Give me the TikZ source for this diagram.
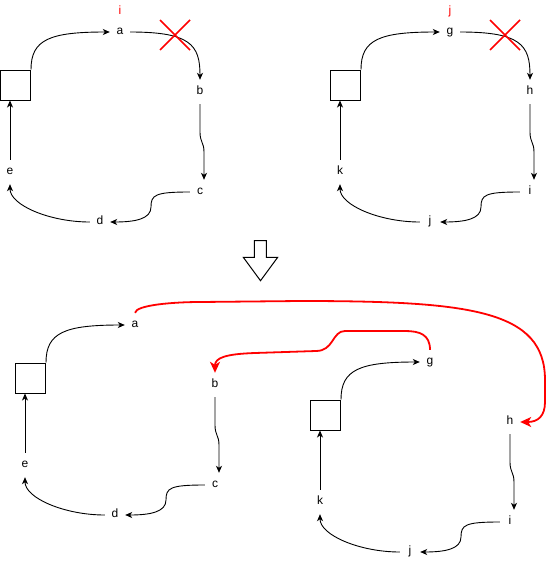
\documentclass[tikz,border=0pt]{standalone}
\usepackage{fontspec}
\setmainfont{Liberation Sans}
\usetikzlibrary{arrows.meta}
\tikzset{
  lbl/.style={inner sep=0pt, minimum width=20pt, minimum height=24pt, text height=8pt, text depth=2.5pt, font=\fontsize{12}{14}\selectfont},
  redlbl/.style={lbl, text=red},
  sqbox/.style={draw, line width=1pt, minimum size=30pt, inner sep=0pt},
  edge/.style={draw, line width=0.9pt, -{Stealth[length=7pt,width=6pt,inset=2pt]}},
  redge/.style={draw=red, line width=1.8pt, -{Stealth[length=11pt,width=10pt,inset=3pt]}},
  redx/.style={draw=red, line width=1.6pt},
  blockarrow/.style={draw, line width=1pt, fill=white, line join=miter}
}
\newcommand\ringgroup[7]{%
  \begin{scope}[shift={#2}]
    \node[sqbox] (#1sq) at (15.5,85) {};
    \node[lbl] (#1n1) at (120,32) {#3};
    \node[lbl] (#1n2) at (200,92) {#4};
    \node[lbl] (#1n3) at (200,192) {#5};
    \node[lbl] (#1n4) at (100,222) {#6};
    \node[lbl] (#1n5) at (10,172) {#7};
    \draw[edge] (#1sq.north east) .. controls +(0,-30) and +(-60,0) .. (#1n1.west);
    \draw[edge] (#1n2.south) -- ++(0,28) .. controls +(0,10) and +(0,-10) .. ++(4,20) -- ([xshift=4pt]#1n3.north);
    \draw[edge] (#1n3.west) .. controls +(-35,0) and +(0,-12) .. (151,207) .. controls +(0,12) and +(25,0) .. (#1n4.east);
    \draw[edge] (#1n4.west) .. controls +(-40,0) and +(0,21) .. (#1n5.south);
    \draw[edge] (#1n5.north) -- (#1n5.north |- #1sq.south);
  \end{scope}}
\begin{document}
\begin{tikzpicture}[x=1pt,y=-1pt]
  \useasboundingbox (0,0) rectangle (547,562);
  % top groups
  \ringgroup{TL}{(0,0)}{a}{b}{c}{d}{e}
  \ringgroup{TR}{(330,0)}{g}{h}{i}{j}{k}
  \node[redlbl] (TLmark) at (120,12) {i};
  \node[redlbl] (TRmark) at (450,12) {j};
  \draw[edge] (TLn1.east) .. controls +(60,0) and +(0,-35) .. (TLn2.north);
  \draw[edge] (TRn1.east) .. controls +(60,0) and +(0,-35) .. (TRn2.north);
  \draw[redx] (160,20) -- (190,50) (160,50) -- (190,20);
  \draw[redx] (490,20) -- (520,50) (490,50) -- (520,20);
  % block arrow
  \draw[blockarrow] (254.3,240.7) -- (266.3,240.7) -- (266.3,257.3) -- (277.7,257.3)
    -- (260.5,280.7) -- (243.3,257.3) -- (254.3,257.3) -- cycle;
  % bottom groups
  \ringgroup{BL}{(15,293)}{a}{b}{c}{d}{e}
  \ringgroup{BR}{(310,330)}{g}{h}{i}{j}{k}
  % red connectors
  \draw[redge] (BLn1.north) .. controls +(1,-8) and +(-25,0) .. (200,302) -- (300,301)
    .. controls (470,301) and (545,310) .. (545,380) -- (545,402)
    .. controls (545,416) and (538,422) .. (BRn2.east);
  \draw[redge] (BRn1.north) .. controls +(0,-15) and +(15,0) .. (405,331) -- (345,331)
    .. controls (332,331) and (334,351) .. (316,351) -- (255,353)
    .. controls (225,354) and (215,358) .. (BLn2.north);
\end{tikzpicture}
\end{document}
